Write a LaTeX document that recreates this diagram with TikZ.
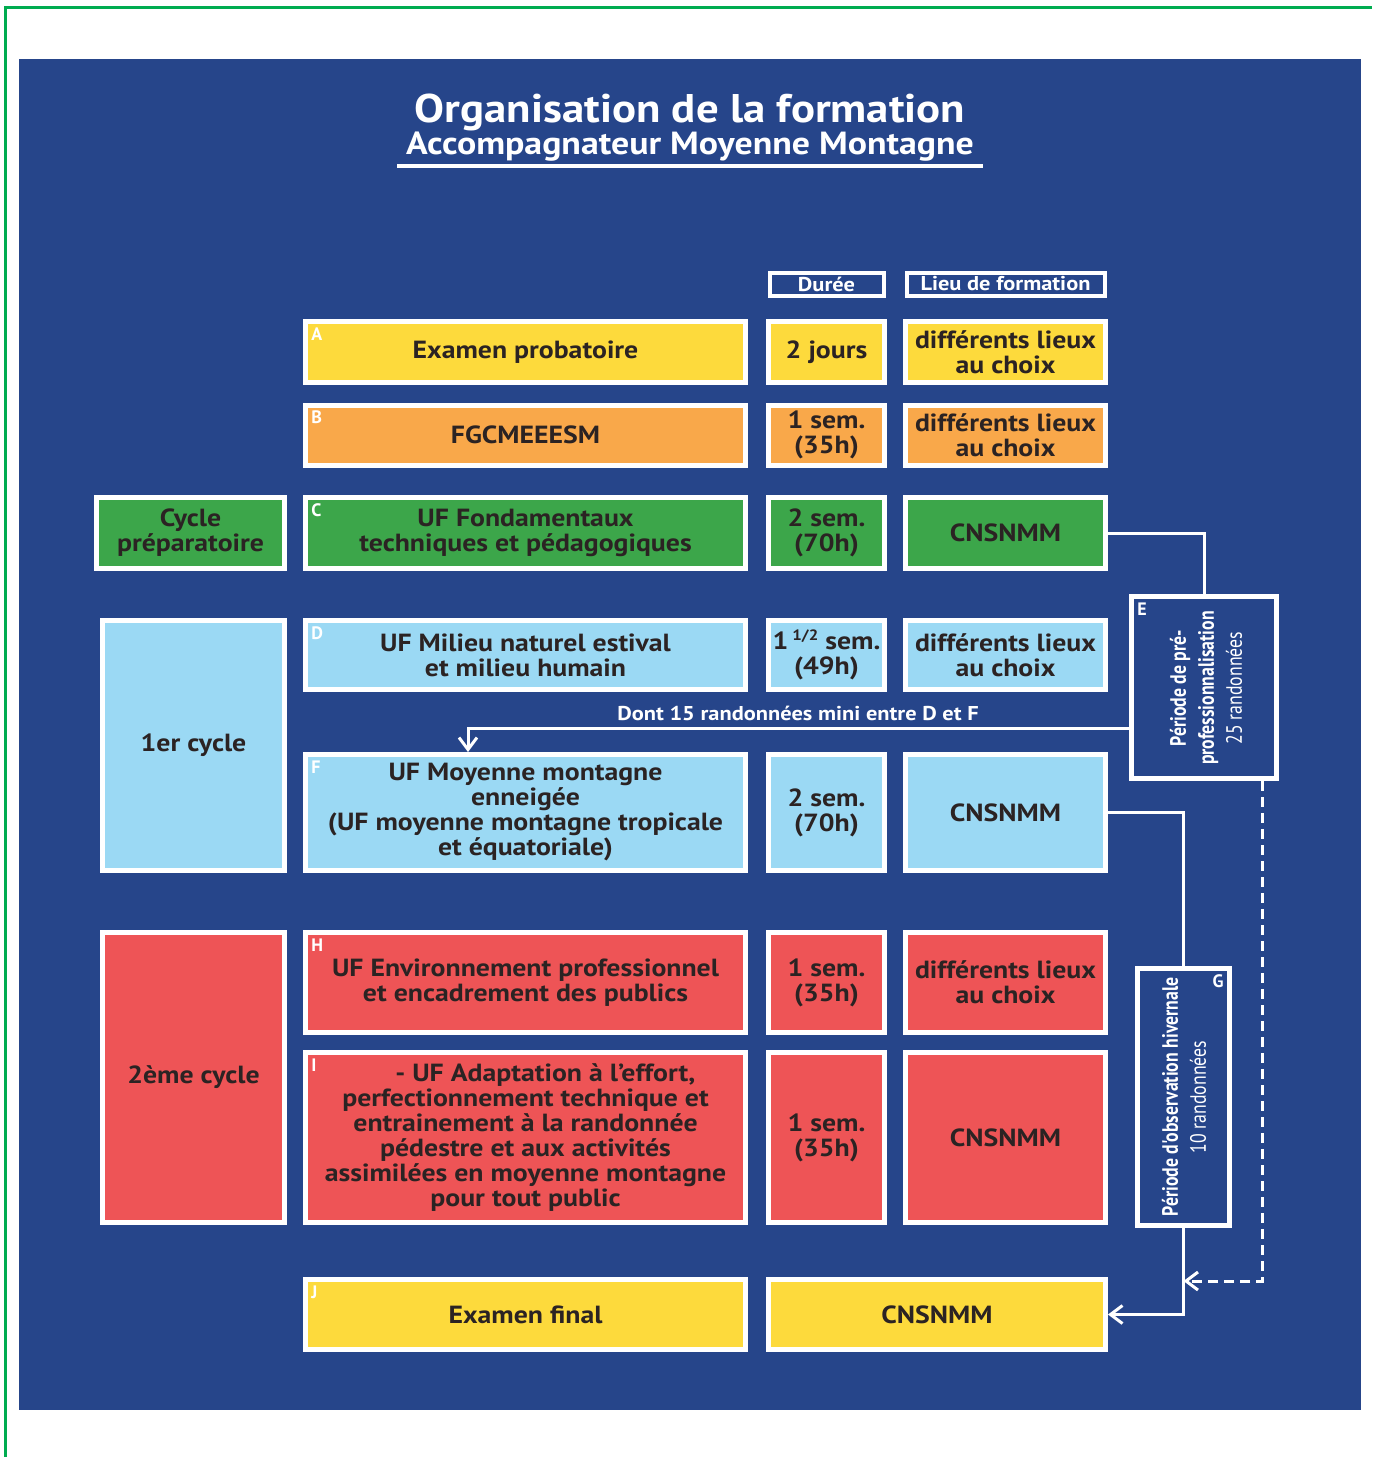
\documentclass[tikz,border=0pt]{standalone}
\usepackage{fontspec}
\setmainfont{PT Sans}
\newfontfamily\etroite[FakeStretch=0.8]{PT Sans}
\newfontfamily\largeur[FakeStretch=1.12]{PT Sans}
\usetikzlibrary{arrows.meta,positioning}
\definecolor{fondbleu}{HTML}{26458A}
\definecolor{cadrevert}{HTML}{00AC50}
\definecolor{jaune}{HTML}{FDDA3C}
\definecolor{orange}{HTML}{F9A84A}
\definecolor{vert}{HTML}{3CA64A}
\definecolor{bleuclair}{HTML}{9BD9F4}
\definecolor{rouge}{HTML}{EE5456}
\definecolor{texte}{HTML}{2B2323}
\tikzset{>={Straight Barb[length=6pt,width=9pt]}}
\tikzset{
  case/.style={draw=white, line width=2.5pt, text=texte, align=center, inner sep=0pt,
    font=\largeur\bfseries\fontsize{12.4}{12.5}\selectfont},
  tag/.style={text=white, inner sep=4pt, font=\bfseries\fontsize{9}{9}\selectfont},
  entete/.style={draw=white, line width=2pt, fill=fondbleu, text=white, inner sep=0pt,
    minimum height=11.5pt, font=\largeur\bfseries\fontsize{10}{10}\selectfont},
  colUF/.style={case, minimum width=220pt},
  colDur/.style={case, minimum width=58pt},
  colLieu/.style={case, minimum width=100pt},
  colCycle/.style={case, minimum width=91pt},
  periode/.style={draw=white, line width=2.5pt, fill=fondbleu},
  vertical/.style={rotate=90, text=white, align=center, inner sep=0pt,
    font=\etroite\fontsize{11.1}{14}\selectfont},
  lien/.style={draw=white, line width=1.5pt},
  tirets/.style={dash pattern=on 5pt off 3pt}
}

\begin{document}
\begin{tikzpicture}[x=0.5pt, y=-0.5pt]
\useasboundingbox (0,0) rectangle (1372,1457);
\fill[fondbleu] (19,59) rectangle (1361,1410);
\draw[cadrevert, line width=1.5pt] (5.5,1457) -- (5.5,7.5) -- (1372,7.5);

% titre
\node[anchor=base, inner sep=0pt, text depth=0pt, text=white, font=\largeur\bfseries\fontsize{20}{20}\selectfont] (titre) at (690,122) {Organisation de la formation};
\node[anchor=base, inner sep=0pt, text=white, font=\largeur\bfseries\fontsize{16}{16}\selectfont] (soustitre) at (690,154) {Accompagnateur Moyenne Montagne};
\draw[white, line width=2pt] (397,166) -- (983,166);

% en-tetes
\node[entete, minimum width=57pt] (duree) at (826.5,284) {Durée};
\node[entete, minimum width=99pt] (lieu) at (1005.5,284) {Lieu de formation};

% A
\node[colUF, fill=jaune, minimum height=30.5pt, label={[tag, anchor=north west]north west:A}] (A) at (525.5,352) {Examen probatoire};
\node[colDur, fill=jaune, minimum height=30.5pt] (Adur) at (826.5,352) {2 jours};
\node[colLieu, fill=jaune, minimum height=30.5pt] (Alieu) at (1005.5,352) {différents lieux\\au choix};

% B
\node[colUF, fill=orange, minimum height=30pt, label={[tag, anchor=north west]north west:B}] (B) at (525.5,435) {FGCMEEESM};
\node[colDur, fill=orange, minimum height=30pt] (Bdur) at (826.5,435) {1 sem.\\(35h)};
\node[colLieu, fill=orange, minimum height=30pt] (Blieu) at (1005.5,435) {différents lieux\\au choix};

% C
\node[colCycle, fill=vert, minimum width=94pt, minimum height=35.5pt] (prep) at (190.5,533) {Cycle\\préparatoire};
\node[colUF, fill=vert, minimum height=35.5pt, label={[tag, anchor=north west]north west:C}] (C) at (525.5,533) {UF Fondamentaux\\techniques et pédagogiques};
\node[colDur, fill=vert, minimum height=35.5pt] (Cdur) at (826.5,533) {2 sem.\\(70h)};
\node[colLieu, fill=vert, minimum height=35.5pt] (Clieu) at (1005.5,533) {CNSNMM};

% 1er cycle
\node[colCycle, fill=bleuclair, minimum height=125pt] (cycle1) at (193.5,745.5) {1er cycle};
\node[colUF, fill=bleuclair, minimum height=34.5pt, label={[tag, anchor=north west]north west:D}] (D) at (525.5,655) {UF Milieu naturel estival\\et milieu humain};
\node[colDur, fill=bleuclair, minimum height=34.5pt] (Ddur) at (826.5,655) {1\,\raisebox{0.75ex}{\fontsize{7.5}{7.5}\selectfont 1/2} sem.\\(49h)};
\node[colLieu, fill=bleuclair, minimum height=34.5pt] (Dlieu) at (1005.5,655) {différents lieux\\au choix};
\node[colUF, fill=bleuclair, minimum height=58pt, label={[tag, anchor=north west]north west:F}] (F) at (525.5,812.5) {UF Moyenne montagne\\enneigée\\(UF moyenne montagne tropicale\\et équatoriale)};
\node[colDur, fill=bleuclair, minimum height=58pt] (Fdur) at (826.5,812.5) {2 sem.\\(70h)};
\node[colLieu, fill=bleuclair, minimum height=58pt] (Flieu) at (1005.5,812.5) {CNSNMM};

% 2eme cycle
\node[colCycle, fill=rouge, minimum height=145pt] (cycle2) at (193.5,1077.5) {2ème cycle};
\node[colUF, fill=rouge, minimum height=50pt, label={[tag, anchor=north west]north west:H}] (H) at (525.5,982.5) {UF Environnement professionnel\\et encadrement des publics};
\node[colDur, fill=rouge, minimum height=50pt] (Hdur) at (826.5,982.5) {1 sem.\\(35h)};
\node[colLieu, fill=rouge, minimum height=50pt] (Hlieu) at (1005.5,982.5) {différents lieux\\au choix};
\node[colUF, fill=rouge, minimum height=85pt, label={[tag, anchor=north west]north west:I}] (I) at (525.5,1137.5) {\hspace*{1.6em}- UF Adaptation à l’effort,\\perfectionnement technique et\\entrainement à la randonnée\\pédestre et aux activités\\assimilées en moyenne montagne\\pour tout public};
\node[colDur, fill=rouge, minimum height=85pt] (Idur) at (826.5,1137.5) {1 sem.\\(35h)};
\node[colLieu, fill=rouge, minimum height=85pt] (Ilieu) at (1005.5,1137.5) {CNSNMM};

% examen final
\node[colUF, fill=jaune, minimum height=35pt, label={[tag, anchor=north west]north west:J}] (J) at (525.5,1314.5) {Examen final};
\node[case, fill=jaune, minimum width=168.5pt, minimum height=35pt] (Jlieu) at (937,1314.5) {CNSNMM};

% periodes
\node[periode, minimum width=72.5pt, minimum height=91pt, label={[tag, anchor=north west]north west:E}] (E) at (1204,687.5) {};
\node[vertical] (Etxt) at (1206,688) {\bfseries Période de pré-\\\bfseries professionnalisation\\25 randonnées};
\node[periode, minimum width=46pt, minimum height=128.5pt, label={[tag, anchor=north east]north east:G}] (G) at (1183.5,1097) {};
\node[vertical] (Gtxt) at (1184,1097) {\bfseries Période d'observation hivernale\\10 randonnées};

% liens
\draw[lien] (Clieu.east) -| (E.north);
\draw[lien, ->] (E.west |- 0,728) -| (F.north -| 468,0);
\node[text=white, font=\largeur\bfseries\fontsize{10}{10}\selectfont] (dont) at (798,713) {Dont 15 randonnées mini entre D et F};
\draw[lien] (Flieu.east) -| (G.north);
\draw[lien, ->] (G.south) |- (Jlieu.east);
\draw[lien, tirets, ->] (E.south -| 1262,0) |- (G.south |- 0,1281);

\end{tikzpicture}
\end{document}
